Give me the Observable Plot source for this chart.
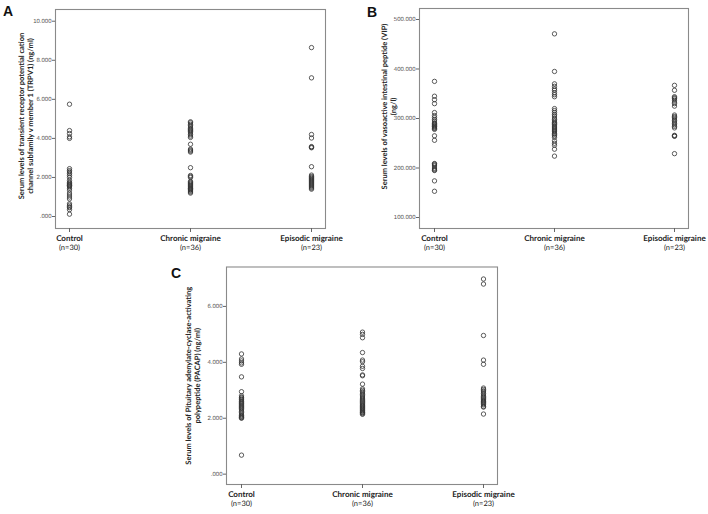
<!DOCTYPE html>
<html>
<head>
<meta charset="utf-8">
<script src="https://cdn.jsdelivr.net/npm/d3@7"></script>
<script src="https://cdn.jsdelivr.net/npm/@observablehq/plot@0.6"></script>
<style>
  html, body { margin: 0; padding: 0; background: #fff; }
  #root { position: relative; width: 708px; height: 514px; overflow: hidden; -webkit-font-smoothing: antialiased; }
  svg text { -webkit-font-smoothing: antialiased; text-rendering: geometricPrecision; }
  .panel { position: absolute; }
  .letter { position: absolute; font-family: "Liberation Sans", Arial, sans-serif; font-weight: bold; font-size: 14px; color: #111; }
</style>
</head>
<body>
<div id="root"></div>
<script>
// ---- categories ----
const cats = ["Control", "Chronic migraine", "Episodic migraine"];
const nLabels = ["(n=30)", "(n=36)", "(n=23)"];

// ---- Panel A: TRPV1 (ng/ml) ----
const trpvControl = [5.75, 4.40, 4.25, 4.08, 4.00, 2.45, 2.35, 2.28, 2.20, 2.10, 2.00, 1.85, 1.75, 1.70, 1.65, 1.60, 1.58, 1.52, 1.45, 1.35, 1.20, 1.10, 1.00, 0.90, 0.65, 0.58, 0.50, 0.45, 0.35, 0.12];
const trpvChronic = [4.85, 4.80, 4.72, 4.65, 4.58, 4.50, 4.45, 4.40, 4.35, 4.28, 4.20, 4.12, 4.05, 3.70, 3.45, 3.40, 3.35, 3.30, 2.50, 2.10, 2.05, 2.00, 1.80, 1.75, 1.70, 1.65, 1.60, 1.55, 1.50, 1.45, 1.42, 1.38, 1.35, 1.30, 1.25, 1.20];
const trpvEpisodic = [8.65, 7.10, 4.20, 4.02, 3.58, 3.55, 3.52, 2.55, 2.12, 2.05, 2.00, 1.95, 1.90, 1.85, 1.80, 1.75, 1.70, 1.65, 1.60, 1.55, 1.50, 1.45, 1.40];
const trpvTicks = [0, 2, 4, 6, 8, 10];
const trpvLabel = ["Serum levels of transient receptor potential cation", "channel subfamily v member 1 (TRPV1) (ng/ml)"];

// ---- Panel B: VIP (ng/l) ----
const vipControl = [375, 345, 338, 330, 312, 306, 302, 298, 295, 291, 290, 288, 286, 284, 283, 281, 280, 278, 265, 256, 209, 208, 206, 204, 200, 198, 196, 195, 174, 153];
const vipChronic = [471, 395, 370, 365, 360, 357, 352, 348, 344, 320, 316, 312, 308, 305, 301, 298, 295, 292, 290, 288, 285, 283, 281, 279, 277, 275, 273, 270, 268, 265, 262, 255, 250, 246, 238, 224];
const vipEpisodic = [367, 357, 344, 342, 340, 337, 333, 330, 325, 307, 304, 302, 299, 296, 293, 290, 287, 284, 281, 266, 265, 264, 229];
const vipTicks = [100, 200, 300, 400, 500];
const vipLabel = ["Serum levels of vasoactive intestinal peptide (VIP)", "(ng/l)"];

// ---- Panel C: PACAP (ng/ml) ----
const pacapControl = [4.30, 4.12, 4.05, 3.98, 3.93, 3.48, 2.95, 2.80, 2.75, 2.72, 2.68, 2.65, 2.60, 2.57, 2.53, 2.50, 2.45, 2.42, 2.38, 2.35, 2.30, 2.25, 2.20, 2.15, 2.10, 2.07, 2.04, 2.02, 2.00, 0.68];
const pacapChronic = [5.08, 5.00, 4.88, 4.35, 4.08, 4.02, 3.86, 3.78, 3.55, 3.52, 3.22, 3.05, 3.00, 2.95, 2.90, 2.85, 2.80, 2.76, 2.72, 2.68, 2.64, 2.60, 2.56, 2.52, 2.48, 2.45, 2.42, 2.38, 2.35, 2.32, 2.28, 2.25, 2.22, 2.20, 2.17, 2.14];
const pacapEpisodic = [6.98, 6.80, 4.96, 4.08, 3.93, 3.08, 3.03, 2.98, 2.94, 2.88, 2.83, 2.78, 2.74, 2.70, 2.66, 2.62, 2.60, 2.56, 2.52, 2.48, 2.42, 2.40, 2.15];
const pacapTicks = [0, 2, 4, 6];
const pacapLabel = ["Serum levels of Pituitary adenylate-cyclase-activating", "polypeptide (PACAP) (ng/ml)"];

function toRows(arrs) {
  const out = [];
  arrs.forEach((arr, i) => arr.forEach(v => out.push({group: cats[i], value: v})));
  return out;
}
const fmtTick = v => { const s = d3.format(".3f")(v); return s.startsWith("0.") ? s.slice(1) : s; };
const fontCat = "Lato, 'Open Sans', sans-serif";
const nRows = cats.map((c, i) => ({group: c, n: nLabels[i]}));

function panel(o) {
  return Plot.plot({
    width: o.width, height: o.height,
    marginLeft: o.ml, marginRight: o.mr, marginTop: o.mt, marginBottom: o.mb,
    style: {background: "transparent", overflow: "visible"},
    x: {type: "point", domain: cats, padding: 0.115},
    y: {domain: o.yDomain},
    marks: [
      Plot.frame({stroke: "#8a8a8a", strokeWidth: 1.1}),
      Plot.axisY({ticks: o.yTicks, tickFormat: fmtTick, tickSize: 3, tickPadding: 1, stroke: "#666",
        fontSize: 6, fill: "#555", fontFamily: "'Liberation Sans', Arial, sans-serif", label: null}),
      Plot.axisX({tickSize: 4, tickPadding: 3, stroke: "#666", fontSize: 8, fontWeight: "bold", fill: "#222",
        fontFamily: fontCat, label: null}),
      Plot.text(nRows, {x: "group", text: "n", frameAnchor: "bottom", lineAnchor: "top", dy: 16.5,
        fontSize: 7.5, fill: "#222", fontFamily: fontCat}),
      Plot.text([o.label.join("\n")], {frameAnchor: "left", rotate: -90, textAnchor: "middle", lineAnchor: "middle",
        lineHeight: 1.15, dx: o.ldx, dy: o.ldy || 0, fontSize: 7.5, fontWeight: "bold", fill: "#222", fontFamily: fontCat}),
      Plot.dot(toRows(o.data), {x: "group", y: "value", r: 2.2, stroke: "#333", strokeWidth: 0.8, fill: "none"})
    ]
  });
}

const root = document.getElementById("root");
function place(el, left, top) {
  const wrap = document.createElement("div");
  wrap.className = "panel";
  wrap.style.left = left + "px"; wrap.style.top = top + "px";
  wrap.appendChild(el);
  root.appendChild(wrap);
}
function letter(t, left, top) {
  const d = document.createElement("div");
  d.className = "letter"; d.textContent = t;
  d.style.left = left + "px"; d.style.top = top + "px";
  root.appendChild(d);
}

// Panel A
place(panel({width: 345, height: 258, ml: 55, mr: 20, mt: 9, mb: 30,
  yDomain: [-0.614, 10.6], yTicks: trpvTicks, label: trpvLabel, ldx: -30, ldy: -3,
  data: [trpvControl, trpvChronic, trpvEpisodic]}), 0, 0);
// Panel B
place(panel({width: 358, height: 258, ml: 69, mr: 20, mt: 8, mb: 30,
  yDomain: [77.8, 522.2], yTicks: vipTicks, label: vipLabel, ldx: -31, ldy: -12,
  data: [vipControl, vipChronic, vipEpisodic]}), 350, 0);
// Panel C
place(panel({width: 410, height: 256, ml: 116, mr: 23, mt: 8.5, mb: 30,
  yDomain: [-0.37, 7.41], yTicks: pacapTicks, label: pacapLabel, ldx: -34, ldy: 0,
  data: [pacapControl, pacapChronic, pacapEpisodic]}), 110, 258);

letter("A", 3, 3);
letter("B", 367, 4);
letter("C", 171, 265);
</script>
</body>
</html>
